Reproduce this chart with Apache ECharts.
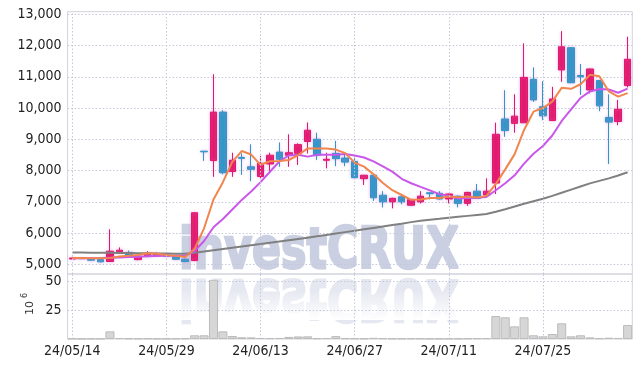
<!DOCTYPE html>
<html>
<head>
<meta charset="utf-8">
<script src="https://cdn.jsdelivr.net/npm/echarts@6/dist/echarts.min.js"></script>
<style>
html,body{margin:0;padding:0;background:#fff;}
#chart{width:642px;height:368px;}
</style>
</head>
<body>
<div id="chart"></div>
<script>
const dates = ['24/05/14','24/05/16','24/05/17','24/05/20','24/05/21','24/05/22','24/05/23','24/05/24','24/05/27','24/05/28',
'24/05/29','24/05/30','24/05/31','24/06/03','24/06/04','24/06/05','24/06/07','24/06/10','24/06/11','24/06/12',
'24/06/13','24/06/14','24/06/17','24/06/18','24/06/19','24/06/20','24/06/21','24/06/24','24/06/25','24/06/26',
'24/06/27','24/06/28','24/07/01','24/07/02','24/07/03','24/07/04','24/07/05','24/07/08','24/07/09','24/07/10',
'24/07/11','24/07/12','24/07/15','24/07/16','24/07/17','24/07/18','24/07/19','24/07/22','24/07/23','24/07/24',
'24/07/25','24/07/26','24/07/29','24/07/30','24/07/31','24/08/01','24/08/02','24/08/05','24/08/06','24/08/07'];

const opens  = [5170,5190,5160,5150,5090,5400,5380,5150,5250,5290,5310,5240,5160,5120,8620,8320,9870,7970,8420,8120,
7810,8210,8590,8490,8550,8930,9000,8330,8550,8400,8290,7740,7850,7210,7000,7160,6890,7000,7290,7270,
7090,7180,6950,7340,7220,7600,9650,9510,9530,10920,10040,9600,11220,11930,11040,10580,10880,9700,9570,10720];
const closes = [5200,5180,5130,5080,5420,5450,5300,5260,5340,5330,5260,5160,5090,6650,8600,9870,7930,8330,8390,8040,
8230,8490,8360,8570,8830,9290,8490,8360,8380,8270,7770,7850,7130,7000,7110,7000,7070,7180,7260,7090,
7250,6950,7300,7110,7340,9160,9280,9740,10980,10260,9750,10290,11960,10810,11000,11250,10070,9550,9960,11560];
const lows   = [5150,5170,5120,5060,5080,5340,5280,5130,5230,5280,5250,5150,5070,5100,8310,7800,7880,7800,7860,7660,
7750,7980,8120,8120,8180,8550,8340,8070,8140,8140,7760,7540,7030,6820,6790,6920,6880,6950,7080,7070,
6950,6820,6870,7100,7200,7250,9080,9210,9520,10200,9610,9590,10840,10800,10420,10470,9900,8210,9450,10660];
const highs  = [5230,5200,5170,5160,6120,5540,5440,5290,5420,5380,5330,5250,5180,6660,8620,11080,9930,8570,8550,8840,
8470,8570,8900,9160,8870,9540,9210,8570,8950,8550,8440,7860,7860,7340,7130,7220,7080,7340,7300,7340,
7260,7200,7320,7570,7750,9530,10570,10440,12070,11300,10860,10680,12460,11950,11410,11260,10900,10440,10260,12280];

const ma5 = [5205,5200,5195,5190,5202,5252,5276,5302,5354,5336,5298,5270,5236,5498,6152,7074,7628,8276,8624,8512,
8184,8296,8302,8338,8496,8708,8708,8708,8670,8558,8254,8126,7880,7604,7372,7218,7062,7072,7124,7120,
7170,7146,7170,7140,7190,7572,8038,8526,9300,9884,10002,10204,10648,10614,10762,11062,11018,10536,10366,10478];
const ma10 = [5190,5190,5195,5200,5210,5220,5230,5240,5255,5269,5275,5273,5269,5426,5744,6186,6449,6756,7061,7332,
7629,7962,8289,8481,8504,8446,8502,8505,8504,8527,8481,8417,8294,8137,7965,7736,7594,7476,7364,7246,
7194,7104,7121,7132,7155,7371,7592,7848,8220,8537,8787,9121,9587,9957,10323,10532,10611,10592,10490,10620];
const maLong = [5380,5376,5372,5370,5367,5364,5360,5356,5352,5348,5344,5340,5338,5370,5410,5450,5490,5530,5570,5610,
5650,5690,5730,5770,5810,5850,5895,5940,5985,6030,6075,6120,6165,6210,6255,6300,6350,6395,6425,6455,
6490,6520,6550,6580,6610,6680,6760,6850,6940,7020,7100,7190,7290,7390,7490,7590,7670,7750,7840,7945];

const volumes = [0.3,0.2,0.3,0.3,6.6,0.8,0.5,0.4,0.5,0.3,0.3,0.4,0.5,3.2,3.2,51,6.6,2.6,1.5,1.4,
0.9,0.8,0.9,1.8,2.2,2.3,0.6,0.8,2.5,0.6,0.5,0.4,1.0,0.6,0.4,0.4,0.5,0.4,0.3,0.3,
0.3,0.3,0.5,0.6,0.7,19.8,18.7,10.9,18.7,3.2,2.3,4.3,13.5,2.3,3.2,1.4,0.6,1.1,0.9,12.1];

const priceTicks = [5000,6000,7000,8000,9000,10000,11000,12000,13000];
const volTicks = [25,50];
const xGridIdx = [0,10,20,30,40,50];

const candleData = opens.map((o,i)=>[o, closes[i], lows[i], highs[i]]);

const gridColor = '#c4c7da';
const labelFont = '"DejaVu Sans Condensed", "Liberation Sans Narrow", sans-serif';

const chart = echarts.init(document.getElementById('chart'), null, {renderer:'canvas'});
const vline = {
  silent:true, symbol:['none','none'], animation:false,
  label:{show:false},
  lineStyle:{color:gridColor, type:[1.5,2], width:1},
  data: xGridIdx.map(i=>({xAxis:i}))
};
const wmFont = {fontFamily:'"DejaVu Sans", sans-serif', fontWeight:'bold', fontSize:57};

chart.setOption({
  animation:false,
  graphic:[
    {type:'text', x:319, y:253, z:0, scaleX:0.75,
     style:Object.assign({text:'investCRUX', fill:'#cad0e2', stroke:'#cad0e2', lineWidth:2.5, align:'center', verticalAlign:'middle'}, wmFont)},
    {type:'text', x:319, y:295, z:0, scaleX:0.75, scaleY:-1,
     style:Object.assign({text:'investCRUX', fill:'#e6e8f1', stroke:'#e6e8f1', lineWidth:2.5, align:'center', verticalAlign:'middle'}, wmFont)},
    {type:'rect', z:1, shape:{x:160, y:290, width:320, height:30},
     style:{fill:new echarts.graphic.LinearGradient(0,0,0,1,[{offset:0,color:'rgba(255,255,255,0)'},{offset:1,color:'rgba(255,255,255,1)'}])}},
    {type:'text', x:30, y:308, rotation:Math.PI/2,
     style:{text:'10', font:'11px "DejaVu Sans", sans-serif', fill:'#333', align:'center', verticalAlign:'middle'}},
    {type:'text', x:25, y:295.5, rotation:Math.PI/2,
     style:{text:'6', font:'8px "DejaVu Sans", sans-serif', fill:'#333', align:'center', verticalAlign:'middle'}}
  ],
  grid:[
    {left:67.6, right:9.7, top:11.7, height:262.3, show:true, borderColor:'#d2d3dc', borderWidth:1, backgroundColor:'transparent'},
    {left:67.6, right:9.7, top:274, height:65, show:true, borderColor:'#d2d3dc', borderWidth:1, backgroundColor:'transparent'}
  ],
  xAxis:[
    {type:'category', gridIndex:0, data:dates, boundaryGap:true,
     axisLine:{show:false}, axisTick:{show:false}, axisLabel:{show:false}, splitLine:{show:false}},
    {type:'category', gridIndex:1, data:dates, boundaryGap:true,
     axisLine:{show:false}, axisTick:{show:false}, splitLine:{show:false},
     axisLabel:{interval:9, fontFamily:labelFont, fontSize:14, color:'#222', margin:5}}
  ],
  yAxis:[
    {type:'value', gridIndex:0, min:4690, max:13083, scale:true, z:2,
     axisLine:{show:false},
     axisTick:{show:false, customValues:priceTicks},
     axisLabel:{customValues:priceTicks, fontFamily:labelFont, fontSize:14, color:'#222', margin:6,
       formatter:v=>Number(v).toLocaleString('en-US')},
     splitLine:{show:true, lineStyle:{color:gridColor, type:[1.5,2], width:1}}},
    {type:'value', gridIndex:1, min:0, max:56, z:2,
     axisLine:{show:false},
     axisTick:{show:false, customValues:volTicks},
     axisLabel:{customValues:volTicks, fontFamily:labelFont, fontSize:14, color:'#222', margin:6},
     splitLine:{show:true, lineStyle:{color:gridColor, type:[1.5,2], width:1}}}
  ],
  series:[
    {type:'candlestick', xAxisIndex:0, yAxisIndex:0, data:candleData, barWidth:7, z:3,
     itemStyle:{color:'#e3186b', color0:'#2d98c8', borderColor:'#e3186b', borderColor0:'#2d98c8', borderWidth:1,
       shadowBlur:3, shadowColor:'rgba(215,120,220,0.55)'},
     markLine:vline},
    {type:'line', xAxisIndex:0, yAxisIndex:0, data:maLong, symbol:'none', z:4,
     lineStyle:{color:'#808080', width:2}},
    {type:'line', xAxisIndex:0, yAxisIndex:0, data:ma10, symbol:'none', z:4,
     lineStyle:{color:'#c957ea', width:2}},
    {type:'line', xAxisIndex:0, yAxisIndex:0, data:ma5, symbol:'none', z:4,
     lineStyle:{color:'#f0854e', width:2}},
    {type:'bar', xAxisIndex:1, yAxisIndex:1, data:volumes, barCategoryGap:'4%', z:3,
     itemStyle:{color:'#d6d6d6', borderColor:'#bcbcbc', borderWidth:1},
     markLine:vline}
  ]
});
</script>
</body>
</html>
